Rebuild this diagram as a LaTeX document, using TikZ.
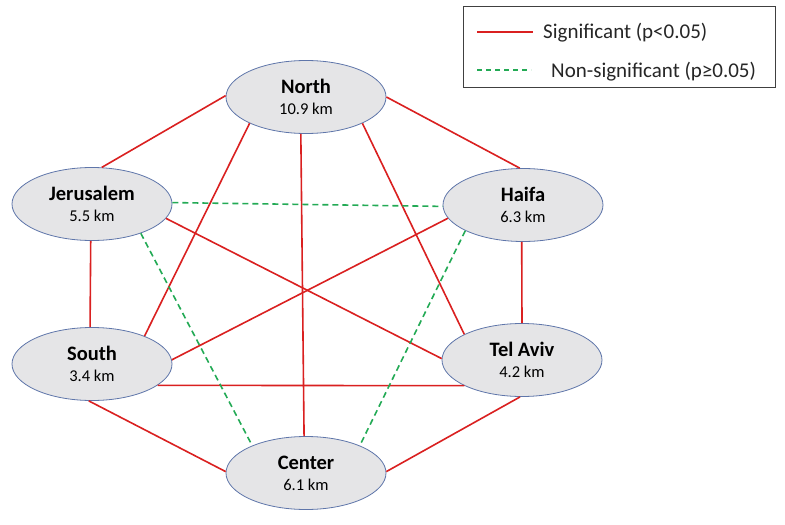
\documentclass[tikz,border=0pt]{standalone}
\usepackage{fontspec}
\setmainfont{Carlito}
\usetikzlibrary{shapes.geometric}
\definecolor{sigred}{RGB}{218,32,32}
\definecolor{nsgreen}{RGB}{35,170,85}
\definecolor{ellfill}{RGB}{229,229,231}
\definecolor{elldraw}{RGB}{95,118,170}
\newcommand\cname[1]{{\fontsize{20.5}{21}\selectfont\bfseries #1}}
\begin{document}
\begin{tikzpicture}[x=1pt,y=-1pt,
 city/.style={ellipse, draw=elldraw, line width=0.8pt, fill=ellfill, minimum width=160pt, minimum height=73pt, inner sep=0pt, align=center, font=\fontsize{16.5}{21}\selectfont},
 sig/.style={draw=sigred, line width=1.6pt},
 nsig/.style={draw=nsgreen, line width=1.6pt, dash pattern=on 6pt off 4pt},
 legtext/.style={anchor=west, font=\fontsize{21}{24}\selectfont, text=black!85, inner sep=0pt}]
\useasboundingbox (0,0) rectangle (785,525);
\fill[white] (0,0) rectangle (785,525);

\node[city] (N) at (306,97) {\cname{North}\\10.9 km};
\node[city] (J) at (92,204) {\cname{Jerusalem}\\5.5 km};
\node[city] (H) at (523,205) {\cname{Haifa}\\6.3 km};
\node[city] (S) at (92,364) {\cname{South}\\3.4 km};
\node[city] (T) at (522,360) {\cname{Tel Aviv}\\4.2 km};
\node[city] (C) at (306,473) {\cname{Center}\\6.1 km};

\draw[sig] (N.179) -- (J.75);
\draw[sig] (N.0) -- (H.95);
\draw[sig] (N.205) -- (S.28);
\draw[sig] (N.335) -- (T.156);
\draw[sig] (N.262) -- (C.93);
\draw[sig] (J.268) -- (S.93);
\draw[sig] (J.349) -- (T.179);
\draw[sig] (H.268) -- (T.90);
\draw[sig] (H.190) -- (S.3);
\draw[sig] (S.342) -- (T.204);
\draw[sig] (S.265) -- (C.179);
\draw[sig] (T.267) -- (C.1);
\draw[nsig] (J.1) -- (H.181);
\draw[nsig] (J.329) -- (C.153);
\draw[nsig] (H.204) -- (C.27);

\node[draw=black!75, line width=0.8pt, minimum width=312pt, minimum height=81pt, inner sep=0pt, anchor=north west] (leg) at (463,6) {};
\coordinate (r1) at (477,32);
\coordinate (r2) at (533,32);
\draw[sig] (r1) -- (r2);
\node[legtext] (l1) at (543,33) {Significant (p<0.05)};
\coordinate (g1) at (477,70);
\coordinate (g2) at (531,70);
\draw[nsig, dash pattern=on 5pt off 4pt] (g1) -- (g2);
\node[legtext] (l2) at (551,72) {Non-significant (p≥0.05)};
\end{tikzpicture}
\end{document}
